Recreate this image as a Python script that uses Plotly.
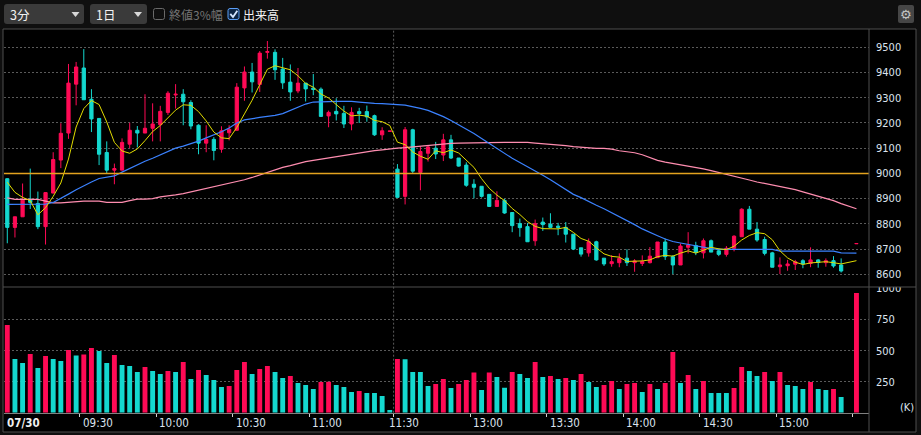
import plotly.graph_objects as go

W, H = 921, 435

# 3-minute bars for 07/30: 09:00-11:30, 12:30-15:24, (15:27 empty), 15:30 close
bar_open = [8979, 8786, 8828, 8898, 8881, 8789, 8922, 9053, 9160, 9354,
            9418, 9294, 9218, 9083, 9013, 9013, 9116, 9171, 9160, 9179,
            9193, 9242, 9311, 9314, 9281, 9191, 9120, 9135, 9096, 9161,
            9171, 9339, 9402, 9353, 9480, 9480, 9414, 9362, 9327, 9358,
            9338, 9334, 9228, 9246, 9238, 9196, 9245, 9245, 9229, 9153,
            9167, 9017, 8909, 9173, 9004, 9080, 9100, 9073, 9133, 9061,
            9033, 8957, 8949, 8917, 8869, 8893, 8845, 8801, 8789, 8733,
            8807, 8799, 8791, 8786, 8759, 8705, 8685, 8729, 8664, 8642,
            8646, 8664, 8646, 8643, 8646, 8666, 8728, 8670, 8637, 8707,
            8714, 8685, 8733, 8693, 8679, 8703, 8749, 8858, 8779, 8738,
            8685, 8630, 8634, 8640, 8654, 8643, 8657, 8646, 8654, 8637,
            None, 8721]
bar_high = [8981, 8828, 8960, 9019, 8928, 8924, 9084, 9199, 9434, 9442,
            9493, 9334, 9218, 9127, 9039, 9139, 9201, 9188, 9314, 9278,
            9268, 9326, 9354, 9334, 9290, 9195, 9191, 9144, 9187, 9191,
            9358, 9424, 9438, 9485, 9525, 9492, 9458, 9432, 9418, 9358,
            9394, 9341, 9249, 9298, 9268, 9262, 9260, 9269, 9233, 9183,
            9168, 9037, 9184, 9177, 9107, 9109, 9125, 9157, 9153, 9061,
            9044, 8977, 8949, 8917, 8929, 8899, 8845, 8821, 8803, 8817,
            8825, 8842, 8804, 8807, 8759, 8705, 8742, 8733, 8664, 8676,
            8683, 8699, 8660, 8675, 8708, 8728, 8742, 8676, 8722, 8767,
            8729, 8742, 8738, 8703, 8712, 8755, 8862, 8871, 8807, 8749,
            8689, 8667, 8657, 8657, 8660, 8707, 8660, 8663, 8672, 8663,
            None, 8723]
bar_low = [8723, 8746, 8828, 8859, 8779, 8718, 8922, 9021, 9137, 9270,
           9292, 9164, 9033, 8998, 8957, 9013, 9100, 9103, 9160, 9127,
           9127, 9232, 9257, 9191, 9175, 9076, 9084, 9052, 9082, 9131,
           9171, 9288, 9321, 9323, 9455, 9371, 9335, 9288, 9318, 9285,
           9310, 9224, 9183, 9210, 9180, 9171, 9200, 9205, 9149, 9133,
           9167, 8905, 8877, 9000, 8933, 9047, 9057, 9049, 9057, 9027,
           8947, 8901, 8904, 8867, 8869, 8840, 8767, 8749, 8729, 8713,
           8772, 8786, 8755, 8726, 8696, 8670, 8670, 8654, 8633, 8630,
           8628, 8633, 8610, 8633, 8643, 8666, 8657, 8601, 8637, 8683,
           8676, 8663, 8688, 8672, 8670, 8691, 8749, 8779, 8729, 8675,
           8628, 8601, 8614, 8617, 8624, 8628, 8626, 8630, 8626, 8607,
           None, 8721]
bar_close = [8786, 8828, 8894, 8885, 8789, 8924, 9055, 9159, 9358, 9422,
             9292, 9216, 9076, 9013, 9019, 9123, 9171, 9160, 9179, 9196,
             9246, 9318, 9314, 9284, 9188, 9120, 9135, 9091, 9169, 9175,
             9342, 9402, 9363, 9477, 9483, 9411, 9359, 9323, 9358, 9335,
             9333, 9226, 9242, 9236, 9196, 9242, 9237, 9224, 9153, 9169,
             9168, 8905, 9173, 9009, 9087, 9105, 9077, 9133, 9061, 9029,
             8953, 8945, 8909, 8869, 8893, 8843, 8793, 8785, 8729, 8801,
             8797, 8786, 8786, 8759, 8700, 8680, 8729, 8657, 8641, 8650,
             8663, 8646, 8653, 8651, 8672, 8728, 8670, 8637, 8712, 8716,
             8687, 8733, 8688, 8679, 8703, 8751, 8858, 8779, 8736, 8683,
             8628, 8637, 8641, 8650, 8641, 8657, 8647, 8654, 8633, 8613,
             None, 8722]
volume_k = [707, 433, 400, 473, 360, 457, 433, 417, 505, 462,
            470, 521, 497, 400, 465, 384, 376, 328, 368, 336,
            312, 336, 328, 409, 271, 344, 304, 263, 207, 215,
            344, 409, 312, 352, 376, 328, 280, 296, 239, 223,
            191, 247, 250, 223, 207, 167, 175, 159, 159, 134,
            22, 433, 430, 328, 328, 215, 231, 271, 199, 231,
            263, 323, 183, 323, 288, 202, 328, 312, 280, 409,
            288, 296, 271, 280, 263, 312, 247, 207, 223, 255,
            191, 231, 239, 167, 231, 191, 239, 489, 239, 304,
            191, 255, 159, 159, 159, 199, 368, 336, 296, 328,
            255, 328, 223, 215, 191, 247, 191, 183, 191, 126,
            None, 965]
ma_short = [8965, 8925, 8905, 8892, 8836, 8864, 8909, 8962, 9057, 9184,
            9257, 9289, 9273, 9204, 9123, 9089, 9080, 9097, 9130, 9166,
            9190, 9220, 9251, 9272, 9270, 9245, 9208, 9164, 9141, 9138,
            9182, 9236, 9290, 9352, 9413, 9427, 9419, 9411, 9387, 9357,
            9342, 9315, 9299, 9274, 9247, 9228, 9231, 9227, 9210, 9205,
            9190, 9124, 9114, 9085, 9068, 9056, 9090, 9082, 9093, 9081,
            9051, 9024, 8979, 8941, 8914, 8892, 8861, 8837, 8809, 8790,
            8781, 8780, 8780, 8786, 8766, 8742, 8731, 8705, 8681, 8671,
            8668, 8651, 8651, 8653, 8657, 8670, 8675, 8672, 8684, 8693,
            8684, 8697, 8707, 8701, 8698, 8711, 8736, 8754, 8765, 8761,
            8737, 8693, 8665, 8648, 8639, 8645, 8647, 8650, 8646, 8641,
            None, 8654]
ma_mid = [8877, 8877, 8877, 8877, 8877, 8878, 8885, 8900, 8918, 8935,
          8952, 8966, 8980, 8985, 8990, 9005, 9020, 9035, 9048, 9060,
          9073, 9087, 9100, 9108, 9117, 9128, 9141, 9152, 9165, 9180,
          9200, 9212, 9218, 9222, 9226, 9230, 9237, 9250, 9265, 9275,
          9283, 9285, 9286, 9286, 9286, 9286, 9283, 9280, 9278, 9277,
          9276, 9273, 9271, 9266, 9258, 9250, 9238, 9225, 9210, 9193,
          9176, 9158, 9138, 9118, 9100, 9080, 9060, 9043, 9027, 9010,
          8993, 8975, 8955, 8935, 8917, 8904, 8888, 8874, 8860, 8845,
          8828, 8813, 8797, 8780, 8765, 8753, 8740, 8730, 8724, 8718,
          8713, 8707, 8702, 8699, 8699, 8699, 8699, 8699, 8699, 8699,
          8699, 8692, 8692, 8692, 8692, 8692, 8692, 8692, 8692, 8685,
          None, 8684]
ma_long = [8903, 8897, 8897, 8897, 8897, 8890, 8883, 8883, 8886, 8890,
           8890, 8890, 8890, 8885, 8885, 8885, 8892, 8898, 8898, 8900,
           8907, 8910, 8915, 8920, 8927, 8932, 8938, 8946, 8952, 8960,
           8966, 8975, 8984, 8994, 9005, 9015, 9024, 9031, 9040, 9047,
           9052, 9057, 9062, 9066, 9070, 9074, 9079, 9085, 9090, 9093,
           9097, 9100, 9102, 9105, 9109, 9112, 9115, 9117, 9119, 9120,
           9121, 9122, 9123, 9123, 9123, 9123, 9123, 9123, 9123, 9120,
           9118, 9116, 9112, 9110, 9106, 9103, 9101, 9099, 9099, 9096,
           9090, 9086, 9082, 9074, 9063, 9052, 9045, 9040, 9035, 9027,
           9022, 9018, 9011, 9004, 8997, 8991, 8984, 8974, 8966, 8960,
           8954, 8948, 8942, 8936, 8927, 8918, 8911, 8902, 8892, 8880,
           None, 8860]
ref_price = 9000
price_ticks = [8600, 8700, 8800, 8900, 9000, 9100, 9200, 9300, 9400, 9500]
volume_ticks = [250, 500, 750, 1000]
time_labels = ["11:30", "09:30", "10:00", "10:30", "11:00", "13:00", "13:30", "14:00", "14:30", "15:00"]
date_label = "07/30"

RED = "#ff0a55"
TEAL = "#14d8cf"
FRAME = "#4e4e4e"
LABEL = "#dce3ee"
NUM_FONT = "DejaVu Sans Condensed, Roboto, sans-serif"
JP_FONT = "Noto Sans CJK JP, sans-serif"


def X(p):
    return p / W


def Y(p):
    return 1 - p / H


def rounded(x0, y0, x1, y1, r):
    return (f"M{X(x0 + r)},{Y(y0)} L{X(x1 - r)},{Y(y0)} Q{X(x1)},{Y(y0)} {X(x1)},{Y(y0 + r)} "
            f"L{X(x1)},{Y(y1 - r)} Q{X(x1)},{Y(y1)} {X(x1 - r)},{Y(y1)} "
            f"L{X(x0 + r)},{Y(y1)} Q{X(x0)},{Y(y1)} {X(x0)},{Y(y1 - r)} "
            f"L{X(x0)},{Y(y0 + r)} Q{X(x0)},{Y(y0)} {X(x0 + r)},{Y(y0)} Z")


def pline(x0, y0, x1, y1, color, width=1, layer="above"):
    return dict(type="line", xref="paper", yref="paper", x0=X(x0), x1=X(x1), y0=Y(y0), y1=Y(y1),
                line=dict(color=color, width=width), layer=layer)


xs = list(range(len(bar_close)))

# volume colour: red when volume rises vs previous bar
vol_colors = []
prev = None
for v in volume_k:
    if v is None:
        vol_colors.append(TEAL)
        continue
    vol_colors.append(RED if prev is None or v > prev else TEAL)
    prev = v

fig = go.Figure()
fig.add_trace(go.Candlestick(
    x=xs, open=bar_open, high=bar_high, low=bar_low, close=bar_close,
    increasing=dict(line=dict(color=RED, width=1), fillcolor=RED),
    decreasing=dict(line=dict(color=TEAL, width=1), fillcolor=TEAL),
    whiskerwidth=0, xaxis="x", yaxis="y", hoverinfo="skip"))
fig.add_trace(go.Scatter(x=xs, y=ma_long, mode="lines", line=dict(color="#ff8db0", width=1.2),
                         connectgaps=True, yaxis="y", hoverinfo="skip"))
fig.add_trace(go.Scatter(x=xs, y=ma_mid, mode="lines", line=dict(color="#3b82ff", width=1.2),
                         connectgaps=True, yaxis="y", hoverinfo="skip"))
fig.add_trace(go.Scatter(x=xs, y=ma_short, mode="lines", line=dict(color="#e2dc00", width=1),
                         connectgaps=True, yaxis="y", hoverinfo="skip"))
fig.add_trace(go.Bar(x=xs, y=volume_k, marker=dict(color=vol_colors, line=dict(width=0)),
                     width=0.64, yaxis="y2", hoverinfo="skip"))

tick_pos = [49.5, 9.5, 19.5, 29.5, 39.5, 60.5, 70.5, 80.5, 90.5, 100.5]
mark_pos = [9.5, 19.5, 29.5, 39.5, 50.5, 60.5, 70.5, 80.5, 90.5, 100.5, 110.5]

shapes = [
    dict(type="rect", xref="paper", yref="paper", x0=X(3), x1=X(916), y0=Y(432), y1=Y(29),
         fillcolor="#000000", line=dict(width=0), layer="below"),
    # reference price
    dict(type="line", xref="paper", yref="y", x0=X(4), x1=X(869), y0=ref_price, y1=ref_price,
         line=dict(color="#e3a21f", width=1.5), layer="above"),
    # session divider
    dict(type="line", xref="x", yref="paper", x0=50.5, x1=50.5, y0=Y(412.7), y1=Y(29),
         line=dict(color="#5c5c5c", width=1, dash="2px,2px"), layer="below"),
    # hide top of the cut "1000" label
    dict(type="rect", xref="paper", yref="paper", x0=X(870), x1=X(915.5), y0=Y(287), y1=Y(280),
         fillcolor="#000000", line=dict(width=0), layer="above"),
    pline(3, 29, 916, 29, FRAME),
    pline(3, 287, 916, 287, FRAME),
    pline(3, 432, 916, 432, FRAME),
    pline(3, 29, 3, 432, FRAME),
    pline(916, 29, 916, 432, FRAME),
    pline(869, 29, 869, 432, FRAME),
    # toolbar
    dict(type="path", xref="paper", yref="paper", path=rounded(4, 4, 84, 24, 3),
         fillcolor="#3a3a3a", line=dict(width=0)),
    dict(type="path", xref="paper", yref="paper", path=rounded(90, 4, 147, 24, 3),
         fillcolor="#3a3a3a", line=dict(width=0)),
    dict(type="path", xref="paper", yref="paper",
         path=f"M{X(71.5)},{Y(12)} L{X(79.5)},{Y(12)} L{X(75.5)},{Y(17)} Z",
         fillcolor="#d8d8d8", line=dict(width=0)),
    dict(type="path", xref="paper", yref="paper",
         path=f"M{X(134)},{Y(12)} L{X(142)},{Y(12)} L{X(138)},{Y(17)} Z",
         fillcolor="#d8d8d8", line=dict(width=0)),
    dict(type="path", xref="paper", yref="paper", path=rounded(153.5, 8.5, 164.5, 19.5, 2),
         fillcolor="rgba(0,0,0,0)", line=dict(color="#6a6a6a", width=1)),
    dict(type="path", xref="paper", yref="paper", path=rounded(228, 8.5, 239, 19.5, 2),
         fillcolor="#0e2544", line=dict(color="#5b9ef5", width=1)),
    dict(type="path", xref="paper", yref="paper",
         path=f"M{X(230.3)},{Y(13.8)} L{X(233)},{Y(17)} L{X(237.3)},{Y(10.8)}",
         fillcolor="rgba(0,0,0,0)", line=dict(color="#d6e6ff", width=1.8)),
    dict(type="path", xref="paper", yref="paper", path=rounded(898, 5, 914, 23, 2),
         fillcolor="#464646", line=dict(width=0)),
]

annotations = [
    dict(text="3分", x=X(8), y=Y(14.5), xanchor="left", yanchor="middle", font=dict(family=JP_FONT, size=12.5, color="#f2f2f2")),
    dict(text="1日", x=X(94), y=Y(14.5), xanchor="left", yanchor="middle", font=dict(family=JP_FONT, size=12.5, color="#f2f2f2")),
    dict(text="終値3%幅", x=X(167), y=Y(14.5), xanchor="left", yanchor="middle", font=dict(family=JP_FONT, size=12, color="#747474")),
    dict(text="出来高", x=X(241), y=Y(14.5), xanchor="left", yanchor="middle", font=dict(family=JP_FONT, size=12, color="#f4f4f4")),
    dict(text="⚙", x=X(906), y=Y(14), xanchor="center", yanchor="middle", font=dict(family="DejaVu Sans", size=13, color="#c4c4c4")),
    dict(text="(K)", x=X(906.5), y=Y(407), xanchor="center", yanchor="middle", font=dict(family=NUM_FONT, size=11, color=LABEL)),
    dict(text="<b>" + date_label + "</b>", xref="x", x=0, xshift=-2, y=Y(422.5), xanchor="left", yanchor="middle",
         font=dict(family=NUM_FONT, size=11.5, color="#f0f0f0")),
]
for pos, lab in zip(tick_pos, time_labels):
    annotations.append(dict(text=lab, xref="x", x=pos, xshift=1, y=Y(422.5), xanchor="left", yanchor="middle",
                            font=dict(family=NUM_FONT, size=11.5, color=LABEL)))
for a in annotations:
    a.setdefault("xref", "paper")
    a["yref"] = "paper"
    a["showarrow"] = False

fig.update_layout(
    template="none",
    width=W, height=H, margin=dict(l=0, r=0, t=0, b=0, pad=0, autoexpand=False),
    paper_bgcolor="#0f0f0f", plot_bgcolor="#000000",
    showlegend=False, hovermode=False, boxgap=0.4, bargap=0.35,
    xaxis=dict(domain=[X(4), X(869)], range=[-0.43, 112.64], anchor="y2", automargin=False,
               showgrid=False, zeroline=False, showline=True, linecolor="#808080", linewidth=1,
               ticks="outside", ticklen=3, tickcolor="#d0d0d0", tickwidth=1,
               tickmode="array", tickvals=mark_pos, showticklabels=False,
               rangeslider=dict(visible=False), fixedrange=True),
    yaxis=dict(domain=[Y(286), Y(29)], range=[8553.6, 9572.6], side="right", anchor="x", automargin=False,
               tickmode="array", tickvals=price_ticks, ticks="", ticklabelstandoff=6,
               showgrid=True, gridcolor="#5a5a5a", griddash="2px,2px", gridwidth=1,
               zeroline=False, showline=False, fixedrange=True,
               tickfont=dict(family=NUM_FONT, size=11, color=LABEL)),
    yaxis2=dict(domain=[Y(412.7), Y(288)], range=[0, 1005], side="right", anchor="x", automargin=False,
                tickmode="array", tickvals=volume_ticks, ticks="", ticklabelstandoff=6,
                showgrid=True, gridcolor="#5a5a5a", griddash="2px,2px", gridwidth=1,
                zeroline=False, showline=False, fixedrange=True,
                tickfont=dict(family=NUM_FONT, size=11, color=LABEL)),
    shapes=shapes, annotations=annotations,
)

fig.write_html("out.html", config={"displayModeBar": False},
               post_script="document.body.style.margin='0';document.body.style.overflow='hidden';")
